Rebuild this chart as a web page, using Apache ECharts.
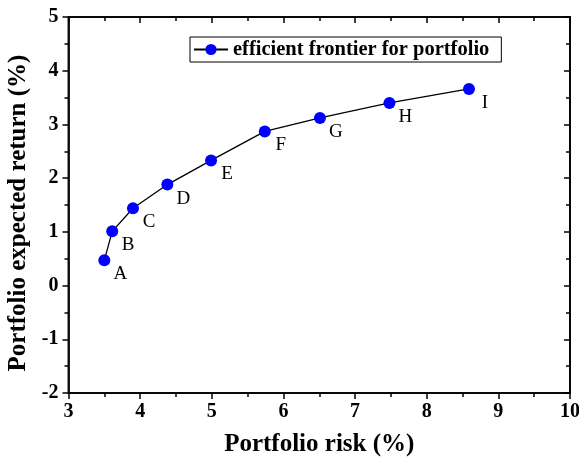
<!DOCTYPE html>
<html><head><meta charset="utf-8">
<script src="https://cdn.jsdelivr.net/npm/echarts@6/dist/echarts.min.js"></script>
<style>html,body{margin:0;padding:0;background:#fff}#c{width:579px;height:463px}</style>
</head><body><div id="c"></div>
<script>
var pointNames = ['A','B','C','D','E','F','G','H','I'];
var riskValues = [3.50, 3.61, 3.90, 4.38, 4.99, 5.74, 6.51, 7.48, 8.59];
var returnValues = [0.47, 1.01, 1.44, 1.88, 2.33, 2.87, 3.12, 3.40, 3.66];
var seriesName = 'efficient frontier for portfolio';

var F = '"Liberation Serif","Times New Roman",serif';
var data = riskValues.map(function(x,i){ return {value:[x, returnValues[i]], name: pointNames[i]}; });
var chart = echarts.init(document.getElementById('c'));
var axisLine = {show:true, onZero:false, lineStyle:{color:'#000', width:1.6}};
var tickStyle = {color:'#000', width:1.5};
chart.setOption({
  animation:false,
  backgroundColor:'#fff',
  grid:{left:68.5, right:9, top:17, bottom:70, containLabel:false, outerBoundsMode:'none',
    show:true, borderColor:'#222', borderWidth:2, backgroundColor:'transparent'},
  legend:{
    left:190, top:37, orient:'horizontal',
    data:[seriesName],
    borderColor:'#000', borderWidth:1, padding:[2,12,2,3],
    itemWidth:34, itemHeight:14, itemGap:4,
    textStyle:{fontFamily:F, fontWeight:'bold', fontSize:20.5, color:'#000'}
  },
  xAxis:[{
    type:'value', min:3, max:10, interval:1,
    name:'Portfolio risk (%)', nameLocation:'middle', nameGap:39,
    nameTextStyle:{fontFamily:F, fontWeight:'bold', fontSize:25, color:'#000'},
    axisLine:axisLine,
    axisTick:{show:true, inside:false, length:6, lineStyle:tickStyle},
    minorTick:{show:true, splitNumber:2, length:4, lineStyle:tickStyle},
    axisLabel:{fontFamily:F, fontWeight:'bold', fontSize:20, color:'#000', margin:9},
    splitLine:{show:false}
  },{
    type:'value', min:3, max:10, interval:1, position:'top', gridIndex:0,
    axisLine:axisLine,
    axisTick:{show:true, inside:true, length:6, lineStyle:tickStyle},
    minorTick:{show:true, splitNumber:2, length:4, lineStyle:tickStyle},
    axisLabel:{show:false}, splitLine:{show:false}
  }],
  yAxis:[{
    type:'value', min:-2, max:5, interval:1,
    name:'Portfolio expected return (%)', nameLocation:'middle', nameGap:32, nameRotate:90,
    nameTextStyle:{fontFamily:F, fontWeight:'bold', fontSize:25, color:'#000', padding:[0,16,0,0]},
    axisLine:axisLine,
    axisTick:{show:true, inside:false, length:6, lineStyle:tickStyle},
    minorTick:{show:true, splitNumber:2, length:4, lineStyle:tickStyle},
    axisLabel:{fontFamily:F, fontWeight:'bold', fontSize:20, color:'#000', margin:10},
    splitLine:{show:false}
  },{
    type:'value', min:-2, max:5, interval:1, position:'right', gridIndex:0,
    axisLine:axisLine,
    axisTick:{show:true, inside:true, length:6, lineStyle:tickStyle},
    minorTick:{show:true, splitNumber:2, length:4, lineStyle:tickStyle},
    axisLabel:{show:false}, splitLine:{show:false}
  }],
  series:[{
    name:seriesName, type:'line', data:data,
    symbol:'circle', symbolSize:12,
    itemStyle:{color:'#0000ff'},
    lineStyle:{color:'#000', width:1.3},
    label:{show:true, formatter:'{b}', position:'inside', offset:[16,14],
      fontFamily:F, fontSize:19, color:'#000'}
  }]
});
</script></body></html>
